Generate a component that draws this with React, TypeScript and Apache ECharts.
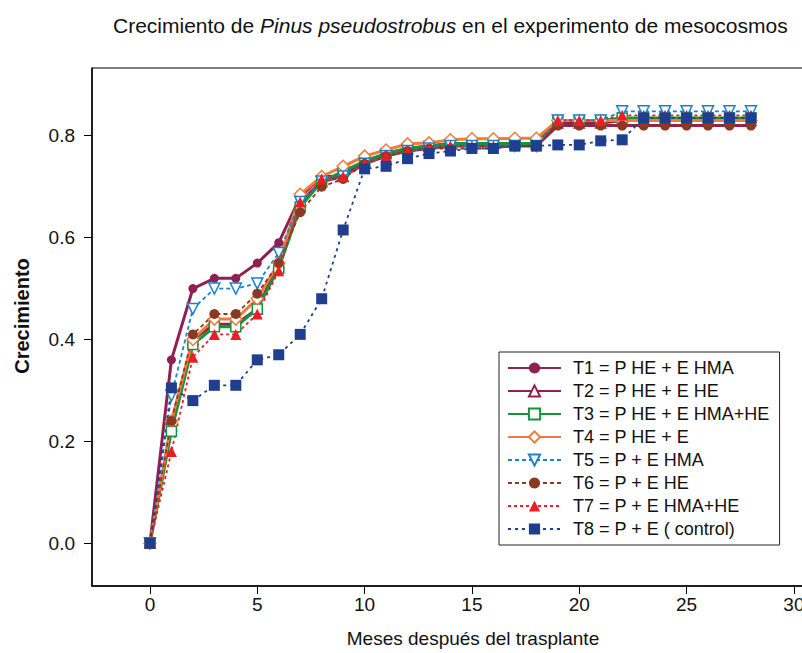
import React, { useEffect, useRef } from "react";
import * as echarts from "echarts";

const months = [0,1,2,3,4,5,6,7,8,9,10,11,12,13,14,15,16,17,18,19,20,21,22,23,24,25,26,27,28];

const t1 = [0, 0.36, 0.50, 0.52, 0.52, 0.55, 0.59, 0.68, 0.72, 0.72, 0.745, 0.76, 0.77, 0.775, 0.78, 0.78, 0.78, 0.78, 0.78, 0.82, 0.82, 0.82, 0.82, 0.82, 0.82, 0.82, 0.82, 0.82, 0.82];
const t2 = [0, 0.23, 0.40, 0.43, 0.43, 0.46, 0.55, 0.67, 0.71, 0.72, 0.75, 0.765, 0.775, 0.78, 0.785, 0.785, 0.785, 0.785, 0.785, 0.825, 0.825, 0.825, 0.83, 0.83, 0.83, 0.83, 0.83, 0.83, 0.83];
const t3 = [0, 0.22, 0.39, 0.425, 0.425, 0.46, 0.54, 0.66, 0.71, 0.73, 0.75, 0.765, 0.775, 0.78, 0.785, 0.785, 0.785, 0.785, 0.785, 0.83, 0.83, 0.83, 0.835, 0.835, 0.835, 0.835, 0.835, 0.835, 0.835];
const t4 = [0, 0.24, 0.40, 0.44, 0.44, 0.48, 0.55, 0.685, 0.72, 0.74, 0.76, 0.772, 0.784, 0.786, 0.792, 0.794, 0.794, 0.795, 0.795, 0.83, 0.83, 0.83, 0.83, 0.83, 0.83, 0.83, 0.83, 0.83, 0.83];
const t5 = [0, 0.29, 0.46, 0.50, 0.50, 0.51, 0.57, 0.67, 0.71, 0.72, 0.745, 0.76, 0.77, 0.775, 0.78, 0.78, 0.78, 0.78, 0.78, 0.83, 0.83, 0.83, 0.848, 0.848, 0.848, 0.848, 0.848, 0.848, 0.848];
const t6 = [0, 0.24, 0.41, 0.45, 0.45, 0.49, 0.55, 0.65, 0.70, 0.715, 0.745, 0.76, 0.77, 0.775, 0.775, 0.775, 0.775, 0.78, 0.78, 0.82, 0.82, 0.82, 0.82, 0.82, 0.82, 0.82, 0.82, 0.82, 0.82];
const t7 = [0, 0.18, 0.365, 0.41, 0.41, 0.45, 0.535, 0.67, 0.715, 0.72, 0.745, 0.76, 0.77, 0.775, 0.78, 0.78, 0.78, 0.78, 0.78, 0.83, 0.83, 0.83, 0.84, 0.84, 0.84, 0.84, 0.84, 0.84, 0.84];
const t8 = [0, 0.305, 0.28, 0.31, 0.31, 0.36, 0.37, 0.41, 0.48, 0.615, 0.735, 0.74, 0.755, 0.765, 0.77, 0.775, 0.775, 0.78, 0.78, 0.782, 0.782, 0.79, 0.792, 0.835, 0.835, 0.835, 0.835, 0.835, 0.835];

const seriesNames = [
  "T1 = P HE + E HMA",
  "T2 = P HE + E HE",
  "T3 = P HE + E HMA+HE",
  "T4 = P HE + E",
  "T5 = P + E HMA",
  "T6 = P + E HE",
  "T7 = P + E HMA+HE",
  "T8 = P + E ( control)",
];

const xTicks = [0, 5, 10, 15, 20, 25, 30];
const yTicks = [0, 0.2, 0.4, 0.6, 0.8];

const FONT = "'Liberation Sans', Arial, sans-serif";

export default function App() {
  const ref = useRef<HTMLDivElement>(null);
  useEffect(() => {
    if (!ref.current) return;
    const chart = echarts.init(ref.current, null, { renderer: "svg" });
    const pair = (arr: number[]) => months.map((m, i) => [m, arr[i]]);

    const mk = (
      name: string,
      data: number[],
      color: string,
      width: number,
      type: any,
      symbol: string,
      size: number,
      open: boolean
    ) => ({
      name,
      type: "line",
      data: pair(data),
      symbol,
      symbolSize: size,
      showAllSymbol: true,
      lineStyle: { color, width, type },
      itemStyle: open
        ? { color: "#ffffff", borderColor: color, borderWidth: 1.5 }
        : { color, borderColor: color, borderWidth: 0 },
      emphasis: { disabled: true },
      z: 2,
    });

    const maroon = "#8E2150";
    const invTri = "path://M0,0 L10,0 L5,9 Z";

    chart.setOption({
      animation: false,
      backgroundColor: "#ffffff",
      textStyle: { fontFamily: FONT },
      title: {
        text: "Crecimiento de {i|Pinus pseudostrobus} en el experimento de mesocosmos",
        left: 108,
        top: 10,
        textStyle: {
          fontFamily: FONT,
          fontSize: 21,
          fontWeight: "normal",
          color: "#111",
          rich: {
            i: { fontFamily: FONT, fontSize: 21, fontStyle: "italic", color: "#111" },
          },
        },
      },
      grid: {
        left: 92,
        top: 68,
        bottom: 65,
        right: 16,
        show: true,
        borderColor: "#000",
        borderWidth: 1,
        containLabel: false,
      },
      legend: {
        orient: "vertical",
        left: 499,
        top: 352,
        padding: [7, 10, 7, 8],
        itemWidth: 53,
        itemHeight: 14,
        itemGap: 5,
        borderColor: "#222",
        borderWidth: 1,
        backgroundColor: "#fff",
        textStyle: { fontFamily: FONT, fontSize: 18, color: "#111", padding: [0, 0, 0, 7] },
        data: seriesNames,
      },
      graphic: [
        {
          type: "text",
          x: 22,
          y: 316,
          rotation: Math.PI / 2,
          style: {
            text: "Crecimiento",
            fontFamily: FONT,
            fontSize: 20,
            fontWeight: "bold",
            fill: "#111",
            align: "center",
            verticalAlign: "middle",
          },
        },
      ],
      xAxis: {
        type: "value",
        min: -2.7,
        max: 32.8,
        name: "Meses después del trasplante",
        nameLocation: "middle",
        nameGap: 43,
        nameTextStyle: { fontFamily: FONT, fontSize: 19, color: "#111" },
        axisLine: { show: true, onZero: false, lineStyle: { color: "#000", width: 1.5 } },
        axisTick: { show: true, customValues: xTicks, length: 8, lineStyle: { color: "#000" } },
        axisLabel: { customValues: xTicks, margin: 9, fontSize: 19, color: "#111", fontFamily: FONT },
        splitLine: { show: false },
      },
      yAxis: {
        type: "value",
        min: -0.084,
        max: 0.933,
        axisLine: { show: true, onZero: false, lineStyle: { color: "#000", width: 1.5 } },
        axisTick: { show: true, customValues: yTicks, length: 8, lineStyle: { color: "#000" } },
        axisLabel: {
          customValues: yTicks,
          margin: 17,
          fontSize: 19,
          color: "#111",
          fontFamily: FONT,
          formatter: (v: number) => v.toFixed(1),
        },
        splitLine: { show: false },
      },
      series: [
        mk(seriesNames[0], t1, maroon, 3, "solid", "circle", 9, false),
        mk(seriesNames[1], t2, maroon, 3, "solid", "triangle", 10, true),
        mk(seriesNames[2], t3, "#15933F", 3, "solid", "rect", 10, true),
        mk(seriesNames[3], t4, "#F47A3A", 3, "solid", "diamond", 12, true),
        mk(seriesNames[4], t5, "#1B80D0", 1.8, [4, 3], invTri, 11, true),
        mk(seriesNames[5], t6, "#8A3A22", 1.8, [4, 3], "circle", 10, false),
        mk(seriesNames[6], t7, "#EE1C25", 1.8, [3, 3], "triangle", 11, false),
        mk(seriesNames[7], t8, "#1F3F8E", 1.8, [3, 4], "rect", 11, false),
      ],
    });
    return () => chart.dispose();
  }, []);
  return (
    <div
      ref={ref}
      style={{ position: "fixed", left: 0, top: 0, width: 870, height: 653, background: "#fff" }}
    />
  );
}
